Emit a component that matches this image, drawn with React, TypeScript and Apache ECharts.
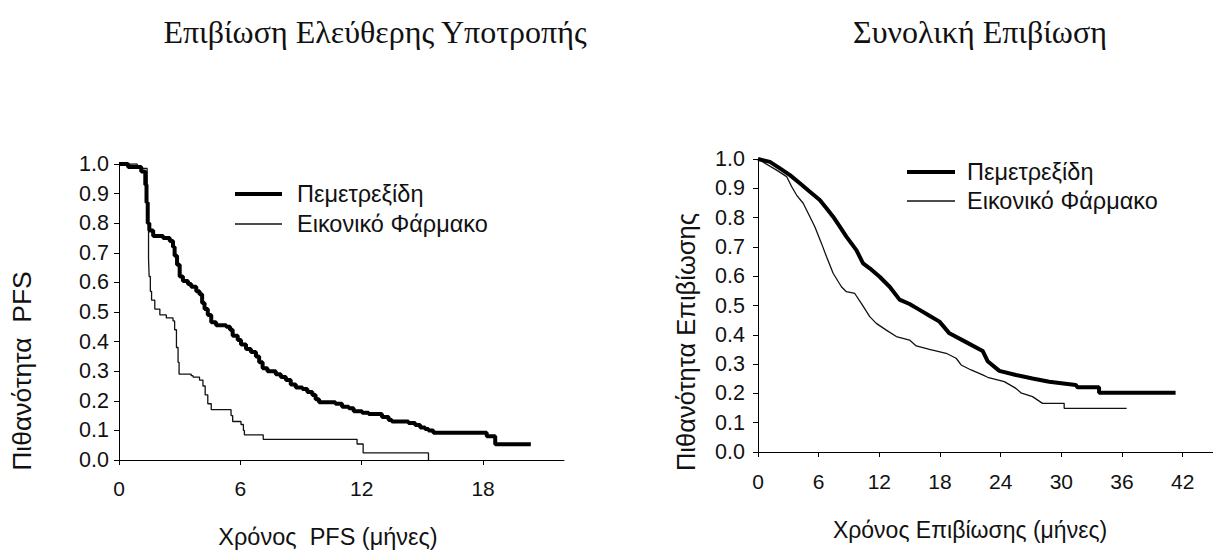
import React, { useEffect, useRef } from "react";
import * as echarts from "echarts";

// ---------- data ----------
const seriesNames = ["Πεμετρεξίδη", "Εικονικό Φάρμακο"];
const titles = ["Επιβίωση Ελεύθερης Υποτροπής", "Συνολική Επιβίωση"];
const xNames = ["Χρόνος  PFS (μήνες)", "Χρόνος Επιβίωσης (μήνες)"];
const yNames = ["Πιθανότητα  PFS", "Πιθανότητα Επιβίωσης"];
const pfsTicks = [0, 6, 12, 18];
const osTicks = [0, 6, 12, 18, 24, 30, 36, 42];

// PFS, pemetrexed (month, survival after the drop)
const pfsPem: number[][] = [
  [0, 1.0], [0.45, 0.99], [1.1, 0.975], [1.3, 0.93], [1.36, 0.87], [1.42, 0.8], [1.5, 0.775],
  [1.69, 0.757], [2.18, 0.75], [2.51, 0.74], [2.67, 0.72], [2.75, 0.69], [2.87, 0.66], [3.0, 0.62],
  [3.16, 0.605], [3.41, 0.595], [3.57, 0.585], [3.82, 0.57], [3.98, 0.56], [4.11, 0.53], [4.23, 0.51],
  [4.39, 0.49], [4.56, 0.465], [4.8, 0.455], [5.3, 0.45], [5.49, 0.44], [5.62, 0.42], [5.87, 0.405],
  [6.03, 0.39], [6.28, 0.375], [6.52, 0.365], [6.77, 0.35], [6.93, 0.33], [7.1, 0.31], [7.34, 0.3],
  [7.75, 0.29], [8.0, 0.28], [8.25, 0.27], [8.49, 0.255], [8.74, 0.245], [9.07, 0.24], [9.31, 0.23],
  [9.56, 0.22], [9.72, 0.205], [9.89, 0.195], [10.7, 0.19], [11.03, 0.18], [11.36, 0.175], [11.6, 0.165],
  [12.02, 0.16], [12.34, 0.155], [13.0, 0.145], [13.33, 0.135], [13.49, 0.13], [14.31, 0.125],
  [14.64, 0.118], [14.89, 0.11], [15.13, 0.105], [15.3, 0.1], [15.54, 0.092], [18.18, 0.08],
  [18.6, 0.053], [20.36, 0.053],
];

// PFS, placebo
const pfsPla: number[][] = [
  [0, 1.0], [0.9, 0.985], [1.39, 0.97], [1.42, 0.8], [1.46, 0.68], [1.49, 0.62], [1.55, 0.57],
  [1.61, 0.54], [1.77, 0.51], [2.02, 0.49], [2.34, 0.48], [2.67, 0.47], [2.75, 0.44], [2.84, 0.38],
  [2.92, 0.33], [2.97, 0.29], [3.57, 0.285], [3.66, 0.28], [3.98, 0.27], [4.15, 0.25], [4.26, 0.22],
  [4.39, 0.19], [4.56, 0.17], [5.54, 0.15], [5.62, 0.13], [6.03, 0.12], [6.15, 0.1], [6.2, 0.085],
  [7.13, 0.07], [11.77, 0.054], [12.07, 0.024], [15.3, 0.0],
];

// Overall survival, pemetrexed
const osPem: number[][] = [
  [0, 1.0], [1.18, 0.99], [2.17, 0.968], [3.16, 0.945], [4.14, 0.917], [5.13, 0.888], [6.11, 0.86],
  [6.77, 0.832], [7.43, 0.803], [8.09, 0.769], [8.74, 0.735], [9.73, 0.689], [10.39, 0.644],
  [11.05, 0.627], [12.03, 0.598], [13.02, 0.564], [14.0, 0.52], [14.99, 0.505], [15.98, 0.485],
  [16.96, 0.465], [17.95, 0.445], [18.93, 0.405], [20.58, 0.375], [22.22, 0.345], [22.71, 0.31],
  [23.87, 0.277], [25.51, 0.263], [27.15, 0.251], [28.8, 0.24], [31.43, 0.229], [31.6, 0.221],
  [33.73, 0.221], [33.73, 0.202], [41.3, 0.202],
];

// Overall survival, placebo
const osPla: number[][] = [
  [0, 1.0], [1.84, 0.962], [2.83, 0.94], [3.32, 0.906], [3.81, 0.877], [4.47, 0.849], [4.96, 0.815],
  [5.62, 0.769], [6.28, 0.712], [6.77, 0.667], [7.43, 0.61], [8.25, 0.564], [8.74, 0.547],
  [9.57, 0.541], [10.22, 0.507], [11.05, 0.462], [11.7, 0.439], [12.69, 0.416], [13.68, 0.394],
  [14.99, 0.382], [15.65, 0.362], [16.96, 0.35], [18.61, 0.337], [19.6, 0.32], [20.09, 0.297],
  [21.07, 0.28], [22.22, 0.263], [22.71, 0.255], [24.36, 0.24], [25.51, 0.217], [26.0, 0.202],
  [27.15, 0.189], [28.14, 0.166], [30.28, 0.166], [30.28, 0.149], [36.46, 0.149],
];

const SANS = "Liberation Sans, Arial, sans-serif";
const SERIF = "Liberation Serif, Times New Roman, serif";

export default function App() {
  const ref = useRef<HTMLDivElement>(null);

  useEffect(() => {
    document.body.style.margin = "0";
    if (!ref.current) return;
    const chart = echarts.init(ref.current, undefined, { renderer: "svg" });

    const xAxisBase = (grid: number, max: number, ticks: number[], margin: number) => ({
      type: "value",
      gridIndex: grid,
      min: 0,
      max,
      axisLine: { show: true, lineStyle: { color: "#000", width: 1 } },
      axisTick: { show: true, customValues: ticks, length: 5, lineStyle: { color: "#000" } },
      axisLabel: { customValues: ticks, color: "#111", fontSize: 21, fontFamily: SANS, margin },
      splitLine: { show: false },
    });
    const yAxisBase = (grid: number, margin: number) => ({
      type: "value",
      gridIndex: grid,
      min: 0,
      max: 1,
      interval: 0.1,
      axisLine: { show: true, lineStyle: { color: "#000", width: 1 } },
      axisTick: { show: true, length: 5, lineStyle: { color: "#000" } },
      axisLabel: {
        color: "#111",
        fontSize: 21.5,
        fontFamily: SANS,
        margin,
        formatter: (v: number) => v.toFixed(1),
      },
      splitLine: { show: false },
    });

    const line = (name: string, data: number[][], idx: number, thick: boolean, step: boolean) => ({
      type: "line",
      name,
      xAxisIndex: idx,
      yAxisIndex: idx,
      data,
      step: step ? "end" : false,
      symbol: "none",
      silent: true,
      z: thick ? 3 : 2,
      lineStyle: { color: thick ? "#000" : "#111", width: thick ? 4 : 1.3 },
    });

    const legendFont = `23.5px ${SANS}`;
    const legend = (x1: number, x2: number, tx: number, y1: number, y2: number) => [
      { type: "line", shape: { x1, y1, x2, y2: y1 }, style: { stroke: "#000", lineWidth: 4 } },
      { type: "line", shape: { x1, y1: y2, x2, y2 }, style: { stroke: "#111", lineWidth: 1.3 } },
      {
        type: "text",
        x: tx,
        y: y1,
        style: { text: seriesNames[0], font: legendFont, fill: "#111", verticalAlign: "middle" },
      },
      {
        type: "text",
        x: tx,
        y: y2,
        style: { text: seriesNames[1], font: legendFont, fill: "#111", verticalAlign: "middle" },
      },
    ];

    const centered = (text: string, x: number, y: number, font: string, rotation = 0) => ({
      type: "text",
      x,
      y,
      rotation,
      style: { text, font, fill: "#111", align: "center", verticalAlign: "middle" },
    });

    chart.setOption({
      animation: false,
      backgroundColor: "#fff",
      grid: [
        { left: 119, top: 164, width: 445, height: 296 },
        { left: 758, top: 159, width: 456, height: 293 },
      ],
      xAxis: [xAxisBase(0, 22, pfsTicks, 18), xAxisBase(1, 45, osTicks, 19)],
      yAxis: [yAxisBase(0, 10), yAxisBase(1, 13)],
      series: [
        line(seriesNames[1], pfsPla, 0, false, true),
        line(seriesNames[0], pfsPem, 0, true, true),
        line(seriesNames[1], osPla, 1, false, false),
        line(seriesNames[0], osPem, 1, true, false),
      ],
      graphic: [
        centered(titles[0], 375, 32, `32px ${SERIF}`),
        centered(titles[1], 980, 32, `32px ${SERIF}`),
        centered(xNames[0], 328, 537, `23.5px ${SANS}`),
        centered(xNames[1], 970, 530, `23px ${SANS}`),
        centered(yNames[0], 22, 371, `26.5px ${SANS}`, Math.PI / 2),
        centered(yNames[1], 686, 342, `25.5px ${SANS}`, Math.PI / 2),
        ...legend(235, 282, 297, 194, 224),
        ...legend(907, 955, 967, 172, 201),
      ],
    });

    return () => chart.dispose();
  }, []);

  return <div ref={ref} style={{ width: 1213, height: 551 }} />;
}
